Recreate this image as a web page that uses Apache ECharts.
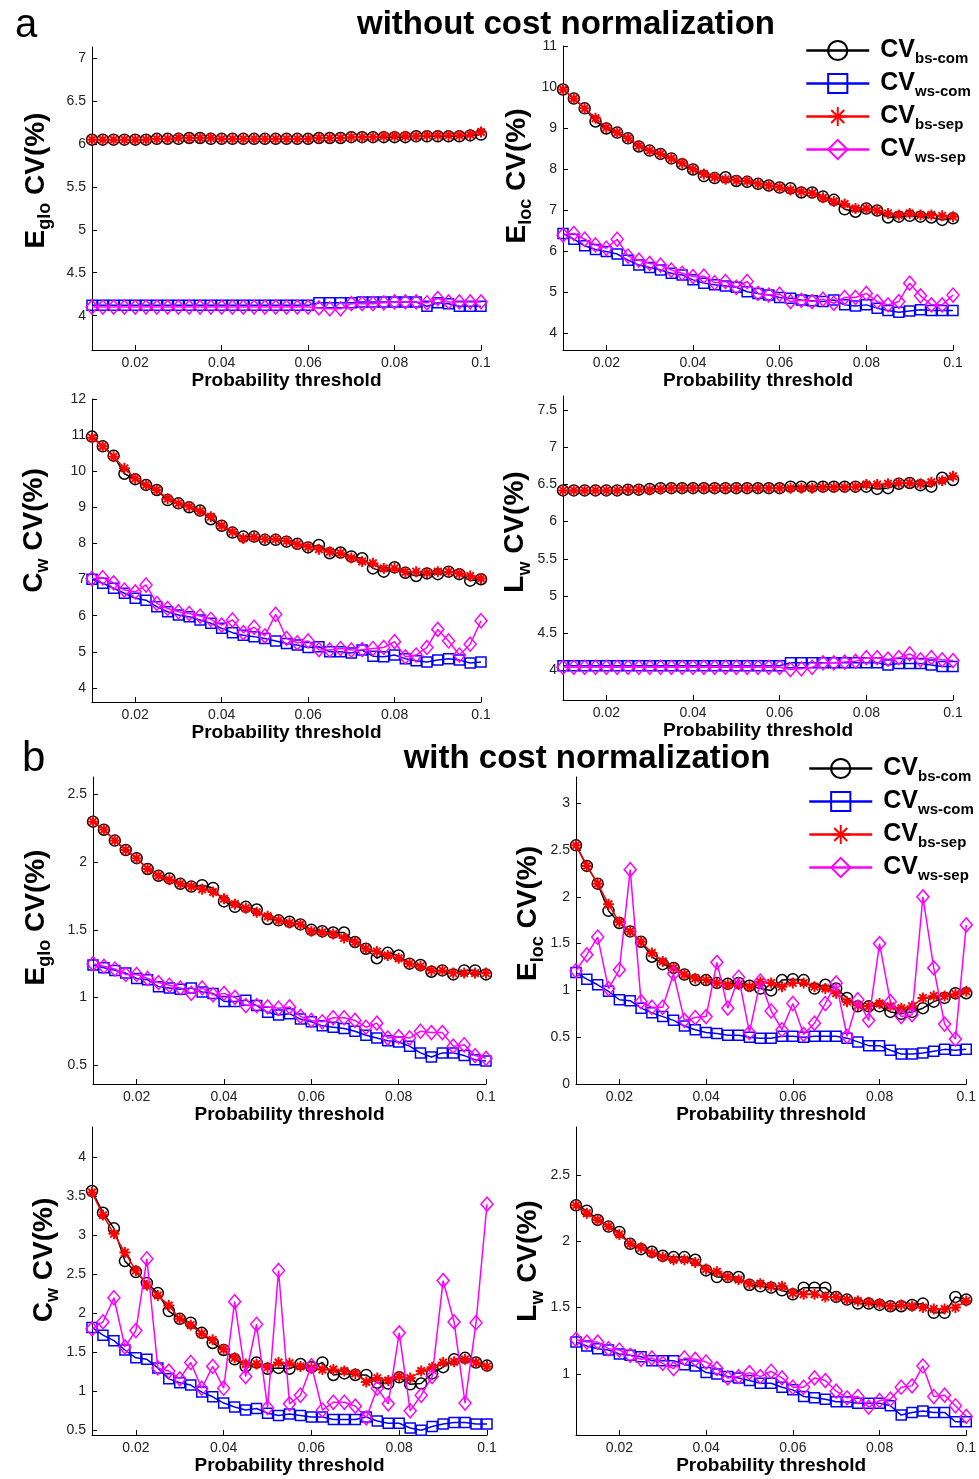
<!DOCTYPE html>
<html>
<head>
<meta charset="utf-8">
<script src="https://cdn.jsdelivr.net/npm/echarts@6/dist/echarts.min.js"></script>
<style>
  html, body { margin: 0; padding: 0; background: #ffffff; }
  #chart { width: 979px; height: 1479px; }
</style>
</head>
<body>
<div id="chart"></div>
<script>
// Probability thresholds shared by every panel
const thresholds = [0.01, 0.0125, 0.015, 0.0175, 0.02, 0.0225, 0.025, 0.0275, 0.03, 0.0325,
  0.035, 0.0375, 0.04, 0.0425, 0.045, 0.0475, 0.05, 0.0525, 0.055, 0.0575,
  0.06, 0.0625, 0.065, 0.0675, 0.07, 0.0725, 0.075, 0.0775, 0.08, 0.0825,
  0.085, 0.0875, 0.09, 0.0925, 0.095, 0.0975, 0.1];
const xTicks = [0.02, 0.04, 0.06, 0.08, 0.1];
const seriesNames = ['bs-com', 'ws-com', 'bs-sep', 'ws-sep'];

// (a) without cost normalization — E_glo
const aEglo_bsCom = [6.05,6.05,6.05,6.05,6.05,6.05,6.06,6.06,6.06,6.07,6.07,6.06,6.06,6.06,6.06,6.06,6.06,6.06,6.06,6.06,6.06,6.07,6.07,6.07,6.08,6.08,6.08,6.08,6.08,6.08,6.09,6.09,6.09,6.09,6.09,6.10,6.11];
const aEglo_wsCom = [4.12,4.12,4.12,4.12,4.12,4.12,4.12,4.12,4.12,4.12,4.12,4.12,4.12,4.12,4.12,4.12,4.12,4.12,4.12,4.12,4.12,4.15,4.15,4.15,4.15,4.16,4.16,4.16,4.16,4.16,4.16,4.11,4.15,4.14,4.11,4.11,4.11];
const aEglo_bsSep = [6.05,6.05,6.05,6.05,6.05,6.05,6.06,6.06,6.07,6.07,6.07,6.07,6.06,6.06,6.06,6.06,6.06,6.06,6.06,6.06,6.06,6.07,6.07,6.07,6.08,6.08,6.08,6.09,6.09,6.09,6.09,6.10,6.10,6.10,6.10,6.11,6.14];
const aEglo_wsSep = [4.10,4.10,4.10,4.10,4.10,4.10,4.10,4.10,4.10,4.10,4.10,4.10,4.10,4.10,4.10,4.10,4.10,4.10,4.10,4.10,4.10,4.09,4.08,4.08,4.14,4.14,4.14,4.15,4.16,4.16,4.16,4.15,4.20,4.16,4.16,4.16,4.16];

// (a) E_loc
const aEloc_bsCom = [9.94,9.72,9.48,9.16,8.99,8.89,8.75,8.55,8.45,8.37,8.26,8.12,7.99,7.83,7.78,7.80,7.71,7.69,7.64,7.60,7.55,7.53,7.43,7.43,7.33,7.25,7.02,6.96,7.04,6.99,6.82,6.84,6.86,6.84,6.82,6.76,6.80];
const aEloc_wsCom = [6.43,6.29,6.13,6.04,5.99,5.93,5.78,5.66,5.60,5.54,5.46,5.42,5.30,5.22,5.18,5.15,5.12,5.01,4.97,4.93,4.87,4.85,4.81,4.79,4.77,4.81,4.69,4.66,4.69,4.61,4.55,4.51,4.54,4.57,4.55,4.55,4.55];
const aEloc_bsSep = [9.94,9.72,9.48,9.24,9.01,8.89,8.75,8.57,8.45,8.37,8.26,8.14,8.00,7.88,7.80,7.75,7.72,7.71,7.64,7.60,7.55,7.49,7.45,7.41,7.30,7.21,7.15,7.04,7.04,6.99,6.92,6.88,6.92,6.88,6.88,6.86,6.84];
const aEloc_wsSep = [6.39,6.43,6.29,6.15,6.07,6.29,5.88,5.78,5.70,5.66,5.54,5.46,5.38,5.39,5.23,5.26,5.12,5.26,4.97,4.93,4.95,4.77,4.80,4.77,4.83,4.73,4.87,4.87,4.97,4.77,4.69,4.77,5.22,4.91,4.69,4.69,4.93];

// (a) C_w
const aCw_bsCom = [10.96,10.69,10.43,9.93,9.78,9.62,9.48,9.20,9.11,9.00,8.91,8.67,8.49,8.30,8.19,8.19,8.10,8.10,8.05,7.99,7.89,7.96,7.73,7.75,7.64,7.59,7.31,7.22,7.34,7.19,7.10,7.17,7.15,7.22,7.15,6.97,7.01];
const aCw_wsCom = [7.01,6.90,6.76,6.62,6.48,6.43,6.25,6.11,6.02,5.97,5.88,5.79,5.65,5.53,5.46,5.42,5.37,5.30,5.23,5.19,5.12,5.14,5.00,5.00,4.97,5.05,4.88,4.86,4.91,4.81,4.75,4.72,4.77,4.81,4.77,4.69,4.72];
const aCw_bsSep = [10.93,10.69,10.40,10.08,9.80,9.62,9.48,9.24,9.11,9.02,8.89,8.74,8.49,8.32,8.14,8.17,8.12,8.12,8.07,7.98,7.91,7.84,7.77,7.73,7.60,7.50,7.45,7.31,7.31,7.21,7.22,7.19,7.22,7.22,7.17,7.10,7.03];
const aCw_wsSep = [7.03,7.05,6.91,6.71,6.66,6.85,6.34,6.20,6.11,6.06,5.99,5.90,5.74,5.88,5.53,5.68,5.44,6.04,5.37,5.25,5.30,5.06,5.05,5.09,5.05,5.06,5.09,5.12,5.28,4.86,4.91,5.12,5.62,5.30,4.91,5.21,5.86];

// (a) L_w
const aLw_bsCom = [6.42,6.42,6.42,6.42,6.42,6.42,6.43,6.43,6.44,6.45,6.45,6.45,6.45,6.45,6.45,6.45,6.45,6.45,6.45,6.45,6.45,6.47,6.47,6.47,6.47,6.47,6.47,6.47,6.47,6.44,6.45,6.51,6.52,6.49,6.47,6.59,6.56];
const aLw_wsCom = [4.06,4.06,4.06,4.06,4.06,4.06,4.06,4.06,4.06,4.06,4.06,4.06,4.06,4.06,4.06,4.06,4.06,4.06,4.06,4.06,4.06,4.10,4.10,4.10,4.10,4.10,4.10,4.10,4.10,4.10,4.07,4.09,4.09,4.09,4.07,4.05,4.05];
const aLw_bsSep = [6.42,6.42,6.42,6.42,6.42,6.42,6.43,6.43,6.43,6.44,6.45,6.45,6.45,6.45,6.45,6.45,6.45,6.45,6.45,6.45,6.45,6.45,6.45,6.45,6.46,6.46,6.46,6.47,6.50,6.50,6.51,6.52,6.52,6.51,6.53,6.55,6.61];
const aLw_wsSep = [4.04,4.04,4.04,4.04,4.04,4.04,4.04,4.04,4.04,4.04,4.04,4.04,4.04,4.04,4.04,4.04,4.04,4.04,4.04,4.04,4.04,4.01,4.02,4.04,4.10,4.10,4.11,4.12,4.17,4.17,4.15,4.17,4.22,4.14,4.17,4.14,4.13];

// (b) with cost normalization — E_glo
const bEglo_bsCom = [2.30,2.24,2.16,2.09,2.03,1.95,1.90,1.88,1.84,1.82,1.83,1.81,1.71,1.67,1.67,1.65,1.58,1.57,1.56,1.54,1.50,1.49,1.48,1.48,1.41,1.36,1.29,1.33,1.31,1.25,1.24,1.19,1.20,1.17,1.20,1.20,1.17];
const bEglo_wsCom = [1.24,1.22,1.20,1.18,1.14,1.13,1.08,1.07,1.06,1.07,1.04,1.03,0.97,0.97,0.98,0.94,0.89,0.87,0.88,0.84,0.82,0.79,0.78,0.77,0.75,0.72,0.70,0.68,0.67,0.64,0.59,0.56,0.59,0.59,0.57,0.54,0.53];
const bEglo_bsSep = [2.30,2.24,2.16,2.09,2.03,1.95,1.90,1.87,1.84,1.82,1.80,1.78,1.73,1.69,1.66,1.63,1.60,1.57,1.55,1.54,1.49,1.48,1.47,1.44,1.41,1.36,1.34,1.31,1.29,1.25,1.23,1.20,1.20,1.18,1.18,1.18,1.18];
const bEglo_wsSep = [1.25,1.23,1.21,1.17,1.17,1.14,1.11,1.09,1.07,1.03,1.07,1.02,1.03,1.00,0.94,0.94,0.93,0.92,0.93,0.86,0.83,0.82,0.85,0.85,0.83,0.78,0.81,0.70,0.71,0.70,0.75,0.74,0.74,0.64,0.65,0.57,0.55];

// (b) E_loc
const bEloc_bsCom = [2.55,2.33,2.14,1.85,1.72,1.63,1.52,1.36,1.28,1.24,1.17,1.11,1.11,1.08,1.07,1.08,1.05,1.02,1.00,1.11,1.12,1.11,1.02,1.06,1.02,0.92,0.83,0.83,0.83,0.77,0.75,0.77,0.81,0.88,0.92,0.97,0.97];
const bEloc_wsCom = [1.19,1.12,1.06,0.99,0.90,0.89,0.81,0.76,0.72,0.68,0.62,0.58,0.55,0.54,0.52,0.52,0.50,0.49,0.49,0.51,0.51,0.50,0.51,0.51,0.51,0.49,0.45,0.41,0.41,0.36,0.32,0.32,0.33,0.35,0.37,0.36,0.37];
const bEloc_bsSep = [2.55,2.33,2.14,1.92,1.73,1.63,1.52,1.40,1.31,1.24,1.17,1.13,1.11,1.08,1.06,1.06,1.04,1.09,1.08,1.04,1.08,1.08,1.04,1.02,0.97,0.88,0.84,0.83,0.86,0.83,0.81,0.83,0.92,0.94,0.94,0.96,0.99];
const bEloc_wsSep = [1.21,1.38,1.57,1.02,1.22,2.29,0.88,0.82,0.82,1.18,0.68,0.71,0.72,1.30,0.81,1.14,0.55,1.10,0.78,0.58,0.86,0.53,0.65,0.86,1.08,0.51,0.90,0.68,1.50,0.88,0.72,0.74,2.00,1.24,0.64,0.48,1.70];

// (b) C_w
const bCw_bsCom = [3.57,3.29,3.09,2.67,2.53,2.39,2.26,2.03,1.93,1.88,1.75,1.62,1.53,1.41,1.32,1.37,1.29,1.30,1.29,1.35,1.31,1.37,1.21,1.23,1.21,1.21,1.11,1.10,1.18,1.09,1.10,1.23,1.31,1.41,1.43,1.37,1.33];
const bCw_wsCom = [1.82,1.72,1.65,1.53,1.43,1.41,1.30,1.16,1.11,1.08,0.99,0.93,0.85,0.80,0.76,0.78,0.72,0.69,0.71,0.69,0.67,0.67,0.64,0.64,0.64,0.67,0.62,0.59,0.59,0.53,0.50,0.55,0.58,0.60,0.60,0.58,0.58];
const bCw_bsSep = [3.55,3.26,3.02,2.78,2.55,2.36,2.23,2.10,1.93,1.85,1.74,1.66,1.54,1.43,1.35,1.35,1.31,1.37,1.36,1.32,1.30,1.28,1.28,1.26,1.23,1.12,1.17,1.14,1.19,1.17,1.26,1.31,1.37,1.38,1.41,1.37,1.32];
const bCw_wsSep = [1.80,1.89,2.20,1.57,1.78,2.70,1.30,1.26,1.16,1.37,1.04,1.32,1.04,2.15,1.19,1.86,0.79,2.55,0.84,0.95,1.33,0.76,0.86,0.86,0.81,0.66,1.04,0.84,1.75,0.75,0.95,1.19,2.42,1.89,0.85,1.88,3.40];

// (b) L_w
const bLw_bsCom = [2.27,2.23,2.16,2.11,2.07,1.98,1.94,1.92,1.89,1.88,1.88,1.86,1.78,1.73,1.73,1.73,1.67,1.66,1.65,1.63,1.60,1.65,1.65,1.65,1.58,1.56,1.53,1.53,1.52,1.51,1.51,1.52,1.53,1.46,1.46,1.58,1.56];
const bLw_wsCom = [1.24,1.21,1.19,1.18,1.15,1.14,1.13,1.10,1.10,1.10,1.07,1.06,1.01,1.00,0.98,0.97,0.95,0.93,0.93,0.90,0.88,0.83,0.82,0.81,0.79,0.79,0.78,0.78,0.78,0.76,0.69,0.71,0.72,0.71,0.71,0.64,0.64];
const bLw_bsSep = [2.27,2.21,2.16,2.11,2.05,1.98,1.95,1.91,1.88,1.86,1.86,1.84,1.79,1.77,1.73,1.71,1.68,1.68,1.66,1.66,1.61,1.60,1.60,1.58,1.58,1.56,1.55,1.54,1.53,1.51,1.52,1.51,1.50,1.49,1.49,1.50,1.55];
const bLw_wsSep = [1.26,1.24,1.24,1.19,1.18,1.14,1.11,1.12,1.08,1.04,1.12,1.11,1.09,1.04,0.97,0.98,1.01,0.98,1.02,0.97,0.90,0.90,0.97,0.95,0.87,0.82,0.83,0.75,0.80,0.81,0.90,0.91,1.06,0.83,0.84,0.76,0.68];

// y tick values for each panel
const yTicks_aEglo = [4, 4.5, 5, 5.5, 6, 6.5, 7];
const yTicks_aEloc = [4, 5, 6, 7, 8, 9, 10, 11];
const yTicks_aCw = [4, 5, 6, 7, 8, 9, 10, 11, 12];
const yTicks_aLw = [4, 4.5, 5, 5.5, 6, 6.5, 7, 7.5];
const yTicks_bEglo = [0.5, 1, 1.5, 2, 2.5];
const yTicks_bEloc = [0, 0.5, 1, 1.5, 2, 2.5, 3];
const yTicks_bCw = [0.5, 1, 1.5, 2, 2.5, 3, 3.5, 4];
const yTicks_bLw = [1, 1.5, 2, 2.5];

const FONT = 'Liberation Sans, Arial, sans-serif';
const ASTERISK = 'path://M5,0L5,10M0,5L10,5M1.6,1.6L8.4,8.4M1.6,8.4L8.4,1.6';

// panel layout: grid box, y range, y label pieces
const panels = [
  { left: 92, top: 47, width: 389, height: 303, ymin: 3.6, ymax: 7.13, ticks: yTicks_aEglo, main: 'E', sub: 'glo', gap: 38, shift: 18,
    data: [aEglo_bsCom, aEglo_wsCom, aEglo_bsSep, aEglo_wsSep] },
  { left: 563, top: 46, width: 390, height: 304, ymin: 3.59, ymax: 11, ticks: yTicks_aEloc, main: 'E', sub: 'loc', gap: 28, shift: 22,
    data: [aEloc_bsCom, aEloc_wsCom, aEloc_bsSep, aEloc_wsSep] },
  { left: 92, top: 399, width: 389, height: 303, ymin: 3.61, ymax: 12, ticks: yTicks_aCw, main: 'C', sub: 'w', gap: 40, shift: 20,
    data: [aCw_bsCom, aCw_wsCom, aCw_bsSep, aCw_wsSep] },
  { left: 563, top: 396, width: 390, height: 304, ymin: 3.6, ymax: 7.69, ticks: yTicks_aLw, main: 'L', sub: 'w', gap: 28, shift: 16,
    data: [aLw_bsCom, aLw_wsCom, aLw_bsSep, aLw_wsSep] },
  { left: 93, top: 777, width: 393, height: 307, ymin: 0.36, ymax: 2.63, ticks: yTicks_bEglo, main: 'E', sub: 'glo', gap: 39, shift: 13,
    data: [bEglo_bsCom, bEglo_wsCom, bEglo_bsSep, bEglo_wsSep] },
  { left: 576, top: 777, width: 394, height: 307, ymin: 0, ymax: 3.28, ticks: yTicks_bEloc, main: 'E', sub: 'loc', gap: 26, shift: 17,
    data: [bEloc_bsCom, bEloc_wsCom, bEloc_bsSep, bEloc_wsSep] },
  { left: 92, top: 1127, width: 395, height: 308, ymin: 0.44, ymax: 4.39, ticks: yTicks_bCw, main: 'C', sub: 'w', gap: 30, shift: 21,
    data: [bCw_bsCom, bCw_wsCom, bCw_bsSep, bCw_wsSep] },
  { left: 576, top: 1127, width: 394, height: 308, ymin: 0.54, ymax: 2.86, ticks: yTicks_bLw, main: 'L', sub: 'w', gap: 24, shift: 20,
    data: [bLw_bsCom, bLw_wsCom, bLw_bsSep, bLw_wsSep] }
];

const markerStyles = [
  { symbol: 'circle', size: 11, color: '#000000', border: 1.5 },
  { symbol: 'rect', size: 10, color: '#0000ff', border: 1.5 },
  { symbol: ASTERISK, size: 11, color: '#ff0000', border: 2 },
  { symbol: 'diamond', size: [12, 14], color: '#ff00ff', border: 1.5 }
];

const fmt = v => String(parseFloat(Number(v).toFixed(4)));

const grids = [], xAxes = [], yAxes = [], series = [];
panels.forEach((p, i) => {
  grids.push({ left: p.left, top: p.top, width: p.width, height: p.height, containLabel: false });
  xAxes.push({
    type: 'value', gridIndex: i, min: 0.01, max: 0.1,
    axisLine: { show: true, lineStyle: { color: '#000', width: 1 } },
    axisTick: { show: true, inside: true, length: 5, customValues: xTicks, lineStyle: { color: '#000' } },
    axisLabel: { customValues: xTicks, formatter: fmt, margin: 6, fontSize: 14, color: '#222', fontFamily: FONT },
    splitLine: { show: false },
    name: 'Probability threshold', nameLocation: 'middle', nameGap: 21,
    nameTextStyle: { fontSize: 19, fontWeight: 'bold', color: '#000', fontFamily: FONT }
  });
  yAxes.push({
    type: 'value', gridIndex: i, min: p.ymin, max: p.ymax,
    axisLine: { show: true, lineStyle: { color: '#000', width: 1 } },
    axisTick: { show: true, inside: true, length: 5, customValues: p.ticks, lineStyle: { color: '#000' } },
    axisLabel: { customValues: p.ticks, formatter: fmt, margin: 6, fontSize: 14, color: '#222', fontFamily: FONT },
    splitLine: { show: false },
    name: '{m|' + p.main + '}{s|' + p.sub + '}{m| CV(%)}',
    nameLocation: 'middle', nameRotate: 90, nameGap: p.gap,
    nameTextStyle: {
      padding: [0, 0, 0, p.shift * 2],
      rich: {
        m: { fontSize: 28, fontWeight: 'bold', color: '#000', fontFamily: FONT, lineHeight: 28 },
        s: { fontSize: 18, fontWeight: 'bold', color: '#000', fontFamily: FONT, padding: [18, 0, 0, 0] }
      }
    }
  });
  p.data.forEach((vals, k) => {
    const m = markerStyles[k];
    series.push({
      type: 'line', name: seriesNames[k], xAxisIndex: i, yAxisIndex: i,
      data: thresholds.map((t, j) => [t, vals[j]]),
      symbol: m.symbol, symbolSize: m.size, showSymbol: true,
      lineStyle: { color: m.color, width: 1.5 },
      itemStyle: { color: 'rgba(0,0,0,0)', borderColor: m.color, borderWidth: m.border },
      emphasis: { disabled: true },
      z: 2 + k
    });
  });
});

const legendBase = {
  orient: 'vertical', itemWidth: 63, itemHeight: 24, itemGap: 5, padding: 0,
  selectedMode: false, data: seriesNames,
  formatter: name => '{m|CV}{s|' + name + '}',
  lineStyle: { width: 2.5 },
  itemStyle: { borderWidth: 2 },
  textStyle: {
    rich: {
      m: { fontSize: 25, fontWeight: 'bold', color: '#000', fontFamily: FONT, lineHeight: 25, padding: [0, 0, 0, 6] },
      s: { fontSize: 15, fontWeight: 'bold', color: '#000', fontFamily: FONT, padding: [16, 0, 0, 0] }
    }
  }
};

const option = {
  backgroundColor: '#ffffff',
  animation: false,
  grid: grids,
  xAxis: xAxes,
  yAxis: yAxes,
  series: series,
  legend: [
    Object.assign({}, legendBase, { left: 805, top: 38 }),
    Object.assign({}, legendBase, { left: 808, top: 756 })
  ],
  graphic: [
    { type: 'text', x: 15, y: 26, style: { text: 'a', font: '40px ' + FONT, fill: '#000', textAlign: 'left', textVerticalAlign: 'middle' } },
    { type: 'text', x: 566, y: 25, style: { text: 'without cost normalization', font: 'bold 33px ' + FONT, fill: '#000', textAlign: 'center', textVerticalAlign: 'middle' } },
    { type: 'text', x: 22, y: 759, style: { text: 'b', font: '42px ' + FONT, fill: '#000', textAlign: 'left', textVerticalAlign: 'middle' } },
    { type: 'text', x: 587, y: 759, style: { text: 'with cost normalization', font: 'bold 33px ' + FONT, fill: '#000', textAlign: 'center', textVerticalAlign: 'middle' } }
  ]
};

const chart = echarts.init(document.getElementById('chart'), null, { renderer: 'canvas' });
chart.setOption(option);
</script>
</body>
</html>
